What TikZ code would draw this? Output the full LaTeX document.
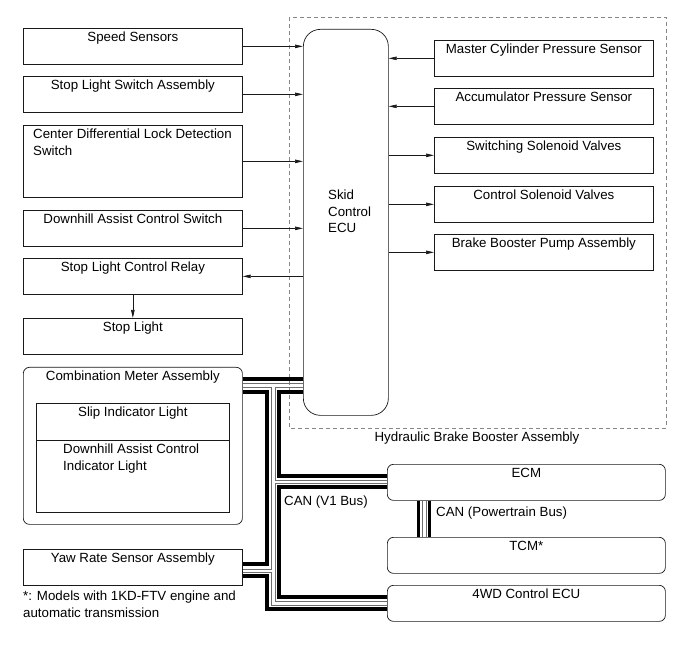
\documentclass[tikz,border=0pt]{standalone}
\usepackage{fontspec}
\setmainfont{Liberation Sans}
\usepackage{xcolor}
\usepackage{tikz}
\usetikzlibrary{arrows.meta, positioning, calc}
\definecolor{mydark}{RGB}{25,25,25}
\definecolor{mygrey}{RGB}{110,110,110}
\definecolor{mydash}{RGB}{135,135,135}
\newcommand{\unitfont}{\fontsize{13.3}{16.5}\selectfont}
\tikzset{
  unit/.style={rectangle, draw=mydark, line width=0.7pt, anchor=north west,
    minimum width=219pt, minimum height=36pt, inner sep=0pt},
  roundunit/.style={unit, rounded corners=6pt},
  ecubox/.style={rectangle, draw=mydark, line width=0.7pt, anchor=north west,
    minimum width=85pt, minimum height=386pt, inner sep=0pt, rounded corners=17pt},
  toptext/.style={anchor=north, inner sep=0pt, yshift=-4pt, font=\unitfont},
  lefttext/.style={anchor=north west, inner sep=0pt, yshift=-4pt, xshift=10pt,
    font=\unitfont, align=left},
  plain/.style={inner sep=0pt, font=\unitfont, align=left},
  arrow/.style={-{Triangle[length=8pt, width=3.5pt]}, line width=0.7pt, color=mydark},
  canthick/.style={line width=3.5pt, color=black},
  canthin/.style={line width=0.8pt, color=mygrey},
  housing/.style={draw=mydash, line width=0.7pt, dash pattern=on 4pt off 3pt}
}

\begin{document}
\begin{tikzpicture}[x=1pt, y=-1pt]
  \useasboundingbox (0,0) rectangle (691,660);

  % Hydraulic brake booster housing
  \draw[housing] (289,17) rectangle (666,428);
  \node[plain, anchor=base] (hbba) at (477,441) {Hydraulic Brake Booster Assembly};

  % Switches and sensors on the left
  \node[unit, label={[toptext]north:Speed Sensors}] (spd) at (23,28) {};
  \node[unit, label={[toptext]north:Stop Light Switch Assembly}] (sls) at (23,76) {};
  \node[unit, minimum height=72pt,
    label={[lefttext]north west:Center Differential Lock Detection\\Switch}] (cdl) at (23,125) {};
  \node[unit, label={[toptext]north:Downhill Assist Control Switch}] (das) at (23,210) {};
  \node[unit, label={[toptext]north:Stop Light Control Relay}] (slr) at (23,258) {};
  \node[unit, label={[toptext]north:Stop Light}] (sl) at (23,318) {};

  % Combination meter with its indicators
  \node[roundunit, minimum height=157pt,
    label={[toptext]north:Combination Meter Assembly}] (cma) at (23,367) {};
  \node[unit, minimum width=193pt, minimum height=37pt,
    label={[toptext]north:Slip Indicator Light}] (sil) at (36,403) {};
  \node[unit, minimum width=193pt, minimum height=72pt,
    label={[lefttext, xshift=17pt]north west:Downhill Assist Control\\Indicator Light}] (dacl) at (36,440) {};

  \node[unit, label={[toptext]north:Yaw Rate Sensor Assembly}] (yaw) at (23,549) {};
  \node[plain, anchor=north west] (note) at (23,591) {*: Models with 1KD-FTV engine and\\automatic transmission};

  % Skid control ECU and the booster parts
  \node[ecubox] (ecu) at (303,29) {};
  \node[plain, anchor=north west] (ecutxt) at (328,190) {Skid\\Control\\ECU};
  \node[unit, label={[toptext]north:Master Cylinder Pressure Sensor}] (mcp) at (434,40) {};
  \node[unit, label={[toptext]north:Accumulator Pressure Sensor}] (acc) at (434,88) {};
  \node[unit, label={[toptext]north:Switching Solenoid Valves}] (ssv) at (434,137) {};
  \node[unit, label={[toptext]north:Control Solenoid Valves}] (csv) at (434,186) {};
  \node[unit, label={[toptext]north:Brake Booster Pump Assembly}] (bbp) at (434,234) {};

  % Other ECUs on the CAN
  \node[roundunit, minimum width=278pt, label={[toptext]north:ECM}] (ecm) at (387,464) {};
  \node[roundunit, minimum width=278pt, label={[toptext]north:TCM*}] (tcm) at (387,537) {};
  \node[roundunit, minimum width=278pt, label={[toptext]north:4WD Control ECU}] (fwd) at (387,585) {};

  % Signal lines
  \foreach \n in {spd, sls, cdl, das}
    \draw[arrow] (\n.east) -- (\n.east -| ecu.west);
  \foreach \n in {mcp, acc}
    \draw[arrow] (\n.west) -- (\n.west -| ecu.east);
  \foreach \n in {ssv, csv, bbp}
    \draw[arrow] (\n.west -| ecu.east) -- (\n.west);
  \draw[arrow] (slr.east -| ecu.west) -- (slr.east);
  \draw[arrow] (slr.south) -- (sl.north);

  % CAN (V1 Bus), each link a thick and a thin wire
  \draw[canthick] (cma.east |- 0,379) -- (ecu.west |- 0,379);
  \draw[canthin] (cma.east |- 0,383) -- (ecu.west |- 0,383);
  \draw[canthick] (cma.east |- 0,392) -| (267,564) -- (yaw.east |- 0,564);
  \draw[canthin] (cma.east |- 0,387) -| (271,569) -- (yaw.east |- 0,569);
  \draw[canthick] (ecu.west |- 0,392) -| (279,476) -- (ecm.west |- 0,476);
  \draw[canthin] (ecu.west |- 0,387) -| (275,480) -- (ecm.west |- 0,480);
  \draw[canthick] (ecm.west |- 0,487) -| (279,597) -- (fwd.west |- 0,597);
  \draw[canthin] (ecm.west |- 0,483) -| (275,601) -- (fwd.west |- 0,601);
  \draw[canthick] (yaw.east |- 0,576) -| (267,609) -- (fwd.west |- 0,609);
  \draw[canthin] (yaw.east |- 0,572) -| (271,605) -- (fwd.west |- 0,605);
  \node[plain, anchor=base west] (v1bus) at (284,505) {CAN (V1 Bus)};

  % CAN (Powertrain Bus)
  \draw[canthick] (418.5,0 |- ecm.south) -- (418.5,0 |- tcm.north);
  \draw[canthin] (422,0 |- ecm.south) -- (422,0 |- tcm.north);
  \draw[canthin] (426,0 |- ecm.south) -- (426,0 |- tcm.north);
  \draw[canthick] (429.5,0 |- ecm.south) -- (429.5,0 |- tcm.north);
  \node[plain, anchor=base west] (ptbus) at (436,516) {CAN (Powertrain Bus)};
\end{tikzpicture}
\end{document}
